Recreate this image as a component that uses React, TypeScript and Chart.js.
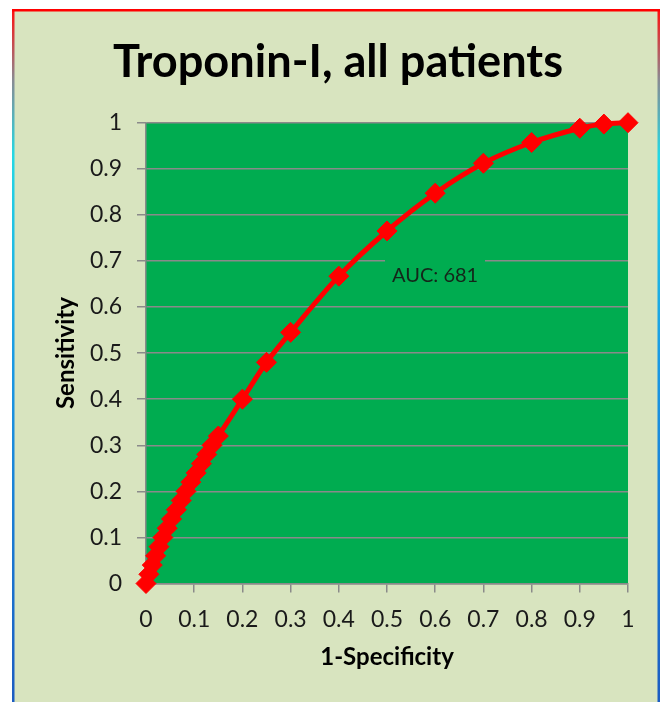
import React, { useEffect, useRef } from "react";
import { Chart, registerables } from "chart.js";

Chart.register(...registerables);

const chartTitle = "Troponin-I, all patients";
const xAxisTitle = "1-Specificity";
const yAxisTitle = "Sensitivity";
const aucLabel = "AUC: 681";

// 1-Specificity (false positive rate)
const fpr = [
  0, 0.006, 0.013, 0.02, 0.027, 0.035, 0.044, 0.053, 0.063, 0.073, 0.083,
  0.093, 0.104, 0.115, 0.126, 0.137, 0.15, 0.2, 0.25, 0.3, 0.4, 0.5, 0.6,
  0.7, 0.8, 0.9, 0.95, 1,
];
// Sensitivity (true positive rate)
const tpr = [
  0, 0.02, 0.04, 0.06, 0.08, 0.1, 0.12, 0.14, 0.16, 0.18, 0.2, 0.22, 0.24,
  0.26, 0.28, 0.3, 0.32, 0.4, 0.48, 0.545, 0.667, 0.765, 0.847, 0.912, 0.957,
  0.988, 0.997, 1,
];

const tickLabels = ["0", "0.1", "0.2", "0.3", "0.4", "0.5", "0.6", "0.7", "0.8", "0.9", "1"];

const W = 666;
const H = 702;

const framePlugin = {
  id: "frame",
  beforeDraw(chart: any) {
    const { ctx, chartArea } = chart;
    ctx.save();
    ctx.fillStyle = "#ffffff";
    ctx.fillRect(0, 0, W, H);
    // panel
    ctx.fillStyle = "#d8e4bf";
    ctx.fillRect(13, 10, 646, H - 10);
    // side borders with gradient
    const g = ctx.createLinearGradient(0, 10, 0, H);
    g.addColorStop(0, "#ff1010");
    g.addColorStop(0.1, "#8a8a92");
    g.addColorStop(0.21, "#24d8e4");
    g.addColorStop(0.5, "#1a9ae4");
    g.addColorStop(1, "#1c5cc2");
    ctx.fillStyle = g;
    ctx.fillRect(12, 10, 2.5, H - 10);
    ctx.fillRect(657.5, 10, 2.5, H - 10);
    ctx.fillStyle = "#ff0000";
    ctx.fillRect(12, 9, 648, 2.5);
    // plot area
    ctx.fillStyle = "#00ac50";
    ctx.fillRect(
      chartArea.left,
      chartArea.top,
      chartArea.right - chartArea.left,
      chartArea.bottom - chartArea.top
    );
    // title
    ctx.font = "bold 44px Lato";
    const w = ctx.measureText(chartTitle).width;
    const size = (44 * 450) / w;
    ctx.font = `bold ${size.toFixed(2)}px Lato`;
    ctx.fillStyle = "#000000";
    ctx.textAlign = "center";
    ctx.textBaseline = "alphabetic";
    ctx.fillText(chartTitle, 338, 76.5);
    ctx.restore();
  },
  beforeDatasetsDraw(chart: any) {
    const { ctx } = chart;
    ctx.save();
    ctx.fillStyle = "#00ac50";
    ctx.fillRect(385, 252, 100, 42);
    ctx.font = "20px Lato";
    ctx.fillStyle = "#14261a";
    ctx.textAlign = "left";
    ctx.textBaseline = "alphabetic";
    ctx.fillText(aucLabel, 392, 282);
    ctx.restore();
  },
};

export default function App() {
  const canvasRef = useRef<HTMLCanvasElement | null>(null);

  useEffect(() => {
    if (!canvasRef.current) return;
    const points = fpr.map((x, i) => ({ x, y: tpr[i] }));
    const chart = new Chart(canvasRef.current, {
      type: "scatter",
      data: {
        datasets: [
          {
            label: "ROC",
            data: points,
            showLine: true,
            borderColor: "#ff0000",
            backgroundColor: "#ff0000",
            borderWidth: 5,
            tension: 0.3,
            pointStyle: "rectRot",
            pointRadius: 10,
            pointBorderWidth: 1,
            pointBackgroundColor: "#ff0000",
            pointBorderColor: "#ff0000",
            clip: false,
          } as any,
        ],
      },
      plugins: [framePlugin],
      options: {
        responsive: false,
        animation: false,
        devicePixelRatio: 1,
        layout: { padding: { top: 122.7, left: 13, right: 38, bottom: 0 } },
        plugins: {
          legend: { display: false },
          title: { display: false },
          tooltip: { enabled: false },
        },
        scales: {
          x: {
            type: "linear",
            min: 0,
            max: 1,
            afterFit: (s: any) => {
              s.height = 118.5;
            },
            ticks: {
              stepSize: 0.1,
              padding: 13,
              color: "#1a1a1a",
              font: { family: "Lato", size: 23 },
              maxRotation: 0,
              autoSkip: false,
              callback: (_v: any, i: number) => tickLabels[i],
            },
            grid: {
              drawOnChartArea: false,
              drawTicks: true,
              tickLength: 9,
              color: "#8a8a8a",
              lineWidth: 1.5,
            },
            border: { display: true, color: "#8a8a8a", width: 1.5 },
            title: {
              display: true,
              text: xAxisTitle,
              color: "#000000",
              font: { family: "Lato", size: 24, weight: "bold" },
              padding: { top: 0, bottom: 30.6 },
            },
          },
          y: {
            type: "linear",
            min: 0,
            max: 1,
            afterFit: (s: any) => {
              s.width = 133;
            },
            ticks: {
              stepSize: 0.1,
              padding: 15,
              color: "#1a1a1a",
              font: { family: "Lato", size: 23 },
              autoSkip: false,
              callback: (_v: any, i: number) => tickLabels[i],
            },
            grid: {
              drawOnChartArea: true,
              drawTicks: true,
              tickLength: 9,
              color: "#8a8a8a",
              lineWidth: 1.5,
            },
            border: { display: true, color: "#8a8a8a", width: 1.5 },
            title: {
              display: true,
              text: yAxisTitle,
              color: "#000000",
              font: { family: "Lato", size: 24, weight: "bold" },
              padding: { top: 38.6, bottom: 0 },
            },
          },
        },
      } as any,
    });
    return () => chart.destroy();
  }, []);

  return (
    <div style={{ position: "absolute", left: 0, top: 0, width: W, height: H }}>
      <canvas ref={canvasRef} width={W} height={H} style={{ display: "block", width: W, height: H }} />
    </div>
  );
}
